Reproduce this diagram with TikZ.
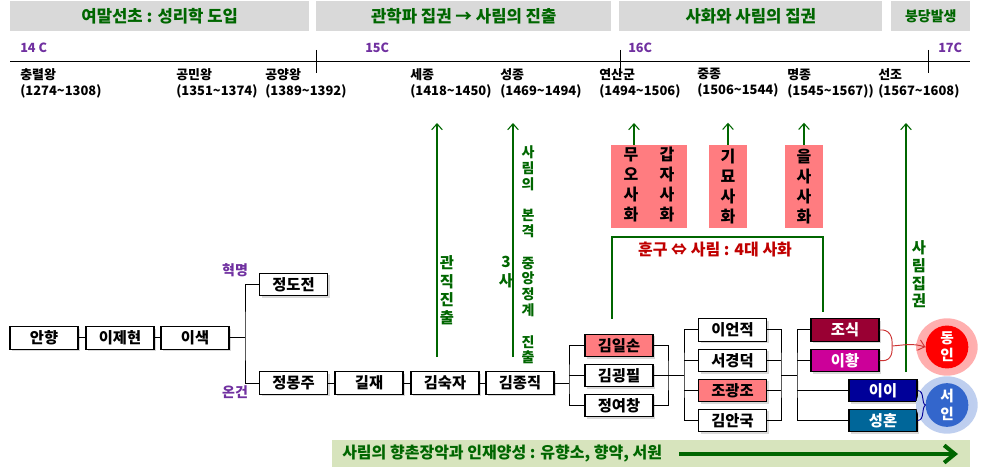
\documentclass[tikz,border=0pt]{standalone}
\usepackage{fontspec}
\setmainfont{Noto Sans CJK KR}
\usetikzlibrary{arrows.meta,shadows,shapes.geometric}
\definecolor{hdrgray}{HTML}{D9D9D9}
\definecolor{dgreen}{HTML}{006600}
\definecolor{purp}{HTML}{7030A0}
\definecolor{pinkf}{HTML}{FF7C80}
\definecolor{hred}{HTML}{C00000}
\definecolor{josikc}{HTML}{990033}
\definecolor{ihwangc}{HTML}{CC0099}
\definecolor{iic}{HTML}{000099}
\definecolor{shonc}{HTML}{006699}
\definecolor{bargreen}{HTML}{D7E4BD}
\definecolor{redline}{HTML}{CC3333}
\definecolor{dongc}{HTML}{FF0000}
\definecolor{seoc}{HTML}{3366CC}
\pgfdeclareradialshading{redglow}{\pgfpoint{0bp}{0bp}}{color(0bp)=(red!35); color(33bp)=(red!30); color(39bp)=(red!14); color(45bp)=(red!5); color(50bp)=(white)}
\pgfdeclareradialshading{blueglow}{\pgfpoint{0bp}{0bp}}{color(0bp)=(seoc!35); color(33bp)=(seoc!30); color(39bp)=(seoc!14); color(45bp)=(seoc!5); color(50bp)=(white)}
\begin{document}
\begin{tikzpicture}[x=0.75pt,y=-0.75pt,
  hdr/.style={fill=hdrgray, inner sep=0, minimum height=22.5pt, anchor=north west, text=dgreen, font=\bfseries\fontsize{12.5}{14}\selectfont},
  cent/.style={text=purp, anchor=west, inner sep=0, font=\bfseries\fontsize{9.5}{11}\selectfont},
  king/.style={anchor=west, align=left, inner sep=0, font=\bfseries\fontsize{9.7}{12}\selectfont},
  tline/.style={line width=0.75pt},
  box/.style={draw=black, line width=0.9pt, fill=white, minimum width=51pt, minimum height=17pt, inner sep=0, font=\bfseries\fontsize{11.5}{13}\selectfont, drop shadow={shadow xshift=1.5pt, shadow yshift=-1.5pt, opacity=0.3}},
  conn/.style={line width=0.75pt, black},
  garrow/.style={draw=dgreen, line width=0.8pt, -{Straight Barb[length=4.5pt,width=8pt]}},
  gline/.style={draw=dgreen, line width=0.8pt},
  pink/.style={fill=pinkf, inner sep=0, align=center, font=\bfseries\fontsize{12}{15}\selectfont},
  vtext/.style={text=dgreen, align=center, inner sep=0},
  lbl/.style={text=purp, inner sep=0, font=\bfseries\fontsize{10.5}{12}\selectfont},
  circ/.style={ellipse, inner sep=0, minimum width=32pt, minimum height=29pt, text=white, align=center, font=\bfseries\fontsize{11}{13}\selectfont},
  redc/.style={draw=redline, line width=0.7pt},
  bluec/.style={draw=iic, line width=0.7pt}
]
\useasboundingbox (0,0) rectangle (990,474);

% header bars
\node[hdr, minimum width=224.25pt] (h1) at (10,1) {여말선초 : 성리학 도입};
\node[hdr, minimum width=221.25pt] (h2) at (316,1) {관학파 집권 → 사림의 진출};
\node[hdr, minimum width=197.25pt] (h3) at (619,1) {사화와 사림의 집권};
\node[hdr, minimum width=59.25pt, font=\bfseries\fontsize{10.5}{12}\selectfont] (h4) at (891,1) {붕당발생};

% centuries
\node[cent] (c14) at (20,48) {14 C};
\node[cent] (c15) at (365,48) {15C};
\node[cent] (c16) at (628,48) {16C};
\node[cent] (c17) at (938,48) {17C};

% timeline
\coordinate (tl0) at (10,62);
\coordinate (tl1) at (970,62);
\draw[tline] (tl0) -- (tl1);
\draw[tline] (316,50) -- (316,73);
\draw[tline] (620,50) -- (620,75);
\draw[tline] (928,50) -- (928,73);

% kings
\node[king] (k1) at (20,83) {충렬왕\\(1274\textasciitilde1308)};
\node[king] (k2) at (176,83) {공민왕\\(1351\textasciitilde1374)};
\node[king] (k3) at (265,83) {공양왕\\(1389\textasciitilde1392)};
\node[king] (k4) at (410,83) {세종\\(1418\textasciitilde1450)};
\node[king] (k5) at (500,83) {성종\\(1469\textasciitilde1494)};
\node[king] (k6) at (599,83) {연산군\\(1494\textasciitilde1506)};
\node[king] (k7) at (697,83) {중종\\(1506\textasciitilde1544)};
\node[king] (k8) at (787,83) {명종\\(1545\textasciitilde1567))};
\node[king] (k9) at (878,83) {선조\\(1567\textasciitilde1608)};

% green arrows
\coordinate (ga1b) at (437,357); \coordinate (ga1t) at (437,123);
\coordinate (ga2b) at (513,357); \coordinate (ga2t) at (513,123);
\coordinate (ga6b) at (906,372); \coordinate (ga6t) at (906,123);
\draw[garrow] (ga1b) -- (ga1t);
\draw[garrow] (ga2b) -- (ga2t);
\draw[garrow] (ga6b) -- (ga6t);

% pink boxes
\node[pink, minimum width=57pt, minimum height=62.25pt] (pk1) at (649,186.5)
  {\begin{tabular}{c@{\hspace{16pt}}c}무&갑\\오&자\\사&사\\화&화\end{tabular}};
\node[pink, minimum width=28.5pt, minimum height=62.25pt] (pk2) at (728,186.5) {기\\묘\\사\\화};
\node[pink, minimum width=28.5pt, minimum height=62.25pt] (pk3) at (804,186.5) {을\\사\\사\\화};
\coordinate (pa1) at (634,123);
\draw[garrow] (pk1.north -| pa1) -- (pa1);
\draw[garrow] (pk2.north) -- ++(0,-22);
\draw[garrow] (pk3.north) -- ++(0,-22);

% bracket of 4 sahwa
\coordinate (hbl) at (612,319);
\coordinate (hbr) at (823,312);
\draw[gline] (hbl) |- (hbr |- 0,237) -- (hbr);
\node[text=hred, inner sep=0, font=\bfseries\fontsize{12}{13}\selectfont] (hsh) at (715,250) {훈구 ⇔ 사림 : 4대 사화};

% vertical texts
\node[vtext, font=\bfseries\fontsize{11.5}{13.7}\selectfont] (vt1) at (447,290.5) {관\\직\\진\\출};
\node[vtext, font=\bfseries\fontsize{11.5}{14.2}\selectfont] (vt2) at (506,272.5) {3\\사};
\node[vtext, font=\bfseries\fontsize{10.5}{11.85}\selectfont] (vt3) at (528,255)
  {사\\림\\의\\\mbox{}\\본\\격\\\mbox{}\\중\\앙\\정\\계\\\mbox{}\\진\\출};
\node[vtext, font=\bfseries\fontsize{11.5}{13.3}\selectfont] (vt4) at (919,274.5) {사\\림\\집\\권};

% labels
\node[lbl] (hm) at (235,270) {혁명};
\node[lbl] (og) at (235,392) {온건};

% boxes
\node[box] (anhyang) at (44,338) {안향};
\node[box] (ijh) at (120,338) {이제현};
\node[box] (isaek) at (195,338) {이색};
\node[box] (jdj) at (293.5,284.5) {정도전};
\node[box] (jmj) at (293.5,383) {정몽주};
\node[box] (gilj) at (369,383) {길재};
\node[box] (gsj) at (445,383) {김숙자};
\node[box] (gjj) at (520,383) {김종직};
\node[box, fill=pinkf] (gis) at (619,345.5) {김일손};
\node[box] (ggp) at (619,375.5) {김굉필};
\node[box] (jyc) at (619,405.5) {정여창};
\node[box] (iej) at (732.5,330) {이언적};
\node[box] (sgd) at (732.5,360.5) {서경덕};
\node[box, fill=pinkf] (jgj) at (732.5,390.5) {조광조};
\node[box] (gag) at (732.5,420.5) {김안국};
\node[box, fill=josikc, text=white] (josik) at (845,330) {조식};
\node[box, fill=ihwangc, text=white] (ihwang) at (845,360.5) {이황};
\node[box, fill=iic, text=white] (ii) at (883,390.5) {이이};
\node[box, fill=shonc, text=white] (shon) at (883,420.5) {성혼};

% connectors
\draw[conn] (anhyang) -- (ijh);
\draw[conn] (ijh) -- (isaek);
\coordinate (b1) at (245,338);
\draw[conn] (isaek.east) -- (b1);
\draw[conn] (jdj.west) -| (b1) |- (jmj.west);
\draw[conn] (jmj) -- (gilj);
\draw[conn] (gilj) -- (gsj);
\draw[conn] (gsj) -- (gjj);
\coordinate (b2) at (569,383);
\draw[conn] (gjj.east) -- (b2);
\draw[conn] (gis.west) -| (b2) |- (jyc.west);
\draw[conn] (ggp.west) -- (ggp.west -| b2);
\coordinate (b3) at (668,375.5);
\draw[conn] (gis.east) -| (b3) |- (jyc.east);
\draw[conn] (ggp.east) -- (b3);
\coordinate (b4) at (684,375.5);
\draw[conn] (b3) -- (b4);
\draw[conn] (iej.west) -| (b4) |- (gag.west);
\draw[conn] (sgd.west) -- (sgd.west -| b4);
\draw[conn] (jgj.west) -- (jgj.west -| b4);
\coordinate (b5) at (781,375.5);
\draw[conn] (iej.east) -| (b5) |- (gag.east);
\draw[conn] (sgd.east) -- (sgd.east -| b5);
\draw[conn] (jgj.east) -- (jgj.east -| b5);
\coordinate (b6) at (797,375.5);
\draw[conn] (b5) -- (b6);
\draw[conn] (josik.west) -| (b6) |- (shon.west);
\draw[conn] (ihwang.west) -- (ihwang.west -| b6);
\draw[conn] (ii.west) -- (ii.west -| b6);

% circles with glow
\coordinate (dgc) at (947,347);
\coordinate (sic) at (947,405);
\shade[shading=redglow] (dgc) ellipse [x radius=23pt, y radius=21.5pt];
\shade[shading=blueglow] (sic) ellipse [x radius=23pt, y radius=21.5pt];
\node[circ, fill=dongc] (dongin) at (dgc) {동\\인};
\node[circ, fill=seoc] (seoin) at (sic) {서\\인};

% red brace + arrow
\coordinate (rj) at (892,346);
\draw[redc] (josik.east) .. controls (889,329) and (893,336) .. (rj) .. controls (893,356) and (889,362) .. (ihwang.east);
\draw[redc, -{Straight Barb[length=4.5pt,width=8pt]}] (rj) .. controls (905,345) and (912,343) .. (dongin.west);
% blue brace
\draw[bluec] (ii.east) .. controls (925,391) and (921,403) .. (seoin.west) .. controls (921,409) and (925,420) .. (shon.east);

% bottom bar
\node[fill=bargreen, inner sep=0, minimum width=478.5pt, minimum height=20.25pt, anchor=north west] (bb) at (332,440) {};
\node[anchor=west, inner sep=0, text=dgreen, font=\bfseries\fontsize{12}{13}\selectfont] (bbt) at (342,453.5) {사림의 향촌장악과 인재양성 : 유향소, 향약, 서원};
\coordinate (ba0) at (679,454);
\coordinate (ba1) at (958,454);
\draw[draw=dgreen, line width=3pt, -{Straight Barb[length=8pt,width=13pt]}] (ba0) -- (ba1);
\end{tikzpicture}
\end{document}
